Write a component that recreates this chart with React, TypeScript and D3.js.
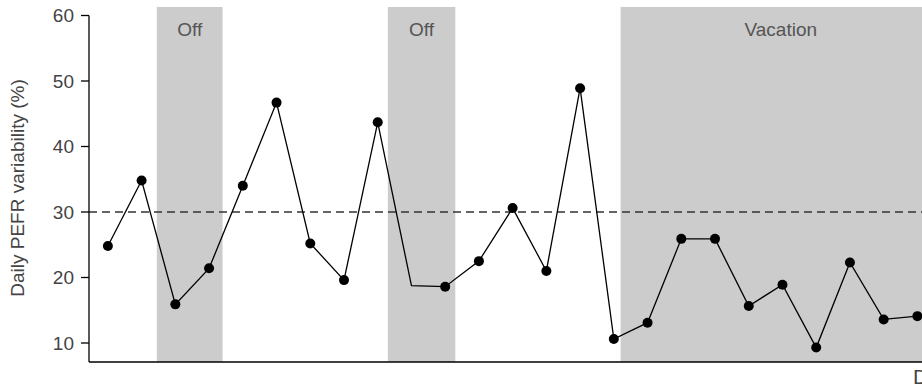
import React from 'react'
import * as d3 from 'd3'

// day index of each measurement
const days = [1, 2, 3, 4, 5, 6, 7, 8, 9, 10, 11, 12, 13, 14, 15, 16, 17, 18, 19, 20, 21, 22, 23, 24, 25]
// daily PEFR variability (%)
const variability = [24.8, 34.8, 15.9, 21.4, 34.0, 46.7, 25.2, 19.6, 43.7, 18.75, 18.6, 22.5, 30.6, 21.0, 48.9, 10.6, 13.1, 25.9, 25.9, 15.65, 18.9, 9.3, 22.3, 13.6, 14.1]
// days plotted without a dot
const noMarkerDays = [10]

const bandLabels = ['Off', 'Off', 'Vacation']
const bandStarts = [2.45, 9.3, 16.2]
const bandEnds = [4.4, 11.3, 25.7]

const yTicks = [10, 20, 30, 40, 50, 60]
const threshold = 30

const width = 922
const height = 392
const font = "'Liberation Sans', Arial, sans-serif"

export default function App() {
  const x = d3.scaleLinear().domain([0.44, 25.7]).range([89, 941])
  const y = d3.scaleLinear().domain([10, 60]).range([343, 15.5])

  const yBottom = 7.1
  const yTop = 61.3

  const points = days.map((d, i) => ({ day: d, value: variability[i] }))

  const line = d3
    .line<{ day: number; value: number }>()
    .x((d) => x(d.day))
    .y((d) => y(d.value))

  return (
    <svg
      width={width}
      height={height}
      style={{ position: 'absolute', left: 0, top: 0, background: '#fff' }}
    >
      {/* shaded periods */}
      {bandLabels.map((label, i) => (
        <g key={'band' + i}>
          <rect
            x={x(bandStarts[i])}
            y={y(yTop)}
            width={x(bandEnds[i]) - x(bandStarts[i])}
            height={y(yBottom) - y(yTop)}
            fill="#cccccc"
          />
          <text
            x={(x(bandStarts[i]) + x(bandEnds[i])) / 2}
            y={36}
            textAnchor="middle"
            fontFamily={font}
            fontSize={19}
            fill="#555"
          >
            {label}
          </text>
        </g>
      ))}

      {/* threshold */}
      <line
        x1={x(0.44)}
        x2={width}
        y1={y(threshold)}
        y2={y(threshold)}
        stroke="#333"
        strokeWidth={1.5}
        strokeDasharray="8,5"
      />

      {/* series */}
      <path d={line(points) || ''} fill="none" stroke="#000" strokeWidth={1.3} />
      {points
        .filter((p) => noMarkerDays.indexOf(p.day) < 0)
        .map((p) => (
          <circle key={p.day} cx={x(p.day)} cy={y(p.value)} r={5} fill="#000" />
        ))}

      {/* y axis */}
      <line x1={x(0.44)} x2={x(0.44)} y1={y(60)} y2={y(yBottom)} stroke="#000" strokeWidth={1.3} />
      {yTicks.map((t) => (
        <g key={t}>
          <line x1={x(0.44) - 8} x2={x(0.44)} y1={y(t)} y2={y(t)} stroke="#000" strokeWidth={1.3} />
          <text
            x={x(0.44) - 15}
            y={y(t)}
            dy="0.36em"
            textAnchor="end"
            fontFamily={font}
            fontSize={19}
            fill="#444"
          >
            {t}
          </text>
        </g>
      ))}
      <text
        transform={`translate(24,188) rotate(-90)`}
        textAnchor="middle"
        fontFamily={font}
        fontSize={19}
        fill="#444"
      >
        Daily PEFR variability (%)
      </text>

      {/* x axis */}
      <line x1={x(0.44)} x2={width} y1={y(yBottom)} y2={y(yBottom)} stroke="#000" strokeWidth={1.3} />
      <text x={913} y={384} fontFamily={font} fontSize={21} fill="#444">
        Days
      </text>
    </svg>
  )
}
